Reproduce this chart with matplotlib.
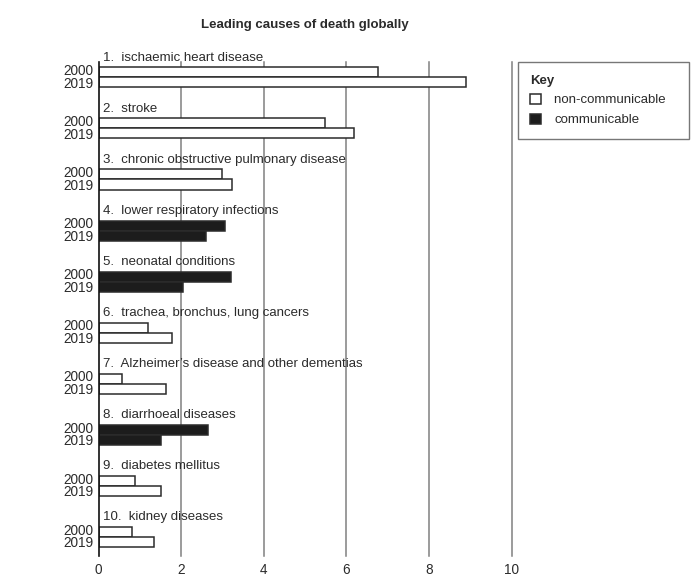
import numpy as np
import matplotlib.pyplot as plt
from matplotlib.patches import Patch

# values (millions of deaths, approx.)
causes = [
    "ischaemic heart disease",
    "stroke",
    "chronic obstructive pulmonary disease",
    "lower respiratory infections",
    "neonatal conditions",
    "trachea, bronchus, lung cancers",
    "Alzheimer\u2019s disease and other dementias",
    "diarrhoeal diseases",
    "diabetes mellitus",
    "kidney diseases",
]
deaths_2000 = [6.77, 5.47, 2.99, 3.07, 3.20, 1.19, 0.56, 2.65, 0.88, 0.81]
deaths_2019 = [8.89, 6.19, 3.22, 2.60, 2.04, 1.78, 1.63, 1.51, 1.50, 1.33]
communicable = [False, False, False, True, True, False, False, True, False, False]
years = ["2000", "2019"]

plt.rcParams["font.family"] = ["Liberation Sans", "DejaVu Sans"]
ink = "#2b2b2b"
fs = 9.5

fig = plt.figure(figsize=(6.91, 5.80), dpi=100)
ax = fig.add_axes([0.1428, 0.0414, 0.5977, 0.8517])

n = len(causes)
pos = np.arange(n)
h = 0.196
colors = ["#1c1c1c" if c else "white" for c in communicable]

ax.barh(pos - h / 2, deaths_2000, height=h, color=colors, edgecolor=ink,
        linewidth=1.1, zorder=3)
ax.barh(pos + h / 2, deaths_2019, height=h, color=colors, edgecolor=ink,
        linewidth=1.1, zorder=3)

for i, name in enumerate(causes):
    ax.text(0.1, i - 0.325, f"{i + 1}.  {name}", va="baseline", ha="left",
            fontsize=fs, color=ink, zorder=4)
    ax.text(-0.12, i - 0.125, years[0], va="center", ha="right",
            fontsize=fs + 0.3, color=ink)
    ax.text(-0.12, i + 0.125, years[1], va="center", ha="right",
            fontsize=fs + 0.3, color=ink)

ax.set_xlim(0, 10)
ax.set_ylim(n - 1 + 0.37, -0.30)
ax.set_xticks([0, 2, 4, 6, 8, 10])
ax.set_xticklabels(["0", "2", "4", "6", "8", "10"], fontsize=fs + 0.3, color=ink)
ax.tick_params(axis="x", length=0, pad=5)
ax.set_yticks([])

for x in [2, 4, 6, 8, 10]:
    ax.axvline(x, color="#808080", linewidth=1.1, zorder=1, clip_on=False)

for s in ["top", "right", "bottom"]:
    ax.spines[s].set_visible(False)
ax.spines["left"].set_color("#111111")
ax.spines["left"].set_linewidth(1.2)
ax.spines["left"].set_zorder(5)

fig.text(0.441, 1 - 28 / 580, "Leading causes of death globally",
         ha="center", va="baseline", fontsize=fs, fontweight="bold", color=ink)

handles = [
    Patch(facecolor="white", edgecolor=ink, linewidth=1.1,
          label="non-communicable   "),
    Patch(facecolor="#1c1c1c", edgecolor=ink, linewidth=1.1,
          label="communicable"),
]
leg = ax.legend(handles=handles, title="Key", loc="upper left",
                bbox_to_anchor=(1.015, 1.0), borderaxespad=0, fancybox=False,
                frameon=True, fontsize=fs, title_fontsize=fs, alignment="left",
                handlelength=0.8, handleheight=0.8, handletextpad=1.0,
                labelspacing=0.55, borderpad=0.95)
leg.get_title().set_fontweight("bold")
leg.get_title().set_color(ink)
for t in leg.get_texts():
    t.set_color(ink)
leg.get_frame().set_edgecolor("#555555")
leg.get_frame().set_linewidth(1.0)

fig.savefig("out.png", dpi=100, facecolor="white")
